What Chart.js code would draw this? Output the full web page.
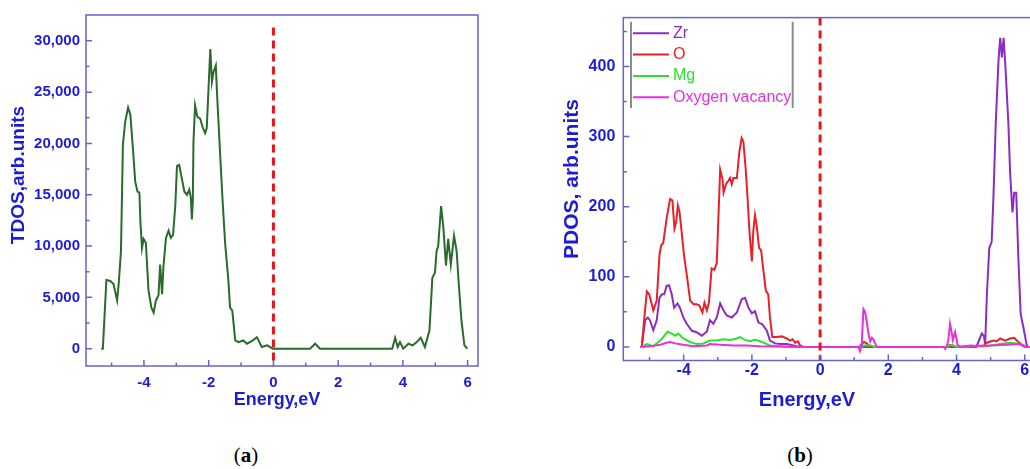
<!DOCTYPE html>
<html>
<head>
<meta charset="utf-8">
<script src="https://cdn.jsdelivr.net/npm/chart.js@4.4.1/dist/chart.umd.min.js"></script>
<style>
  html, body { margin: 0; padding: 0; background: #fff; overflow: hidden; }
  body { width: 1030px; height: 469px; position: relative; }
  .box { position: absolute; top: 0; height: 420px; }
  #boxA { left: 0; width: 500px; }
  #boxB { left: 530px; width: 530px; }
  .cap { position: absolute; top: 443px; font: 21px 'Liberation Serif', serif; transform: translateX(-50%); }
</style>
</head>
<body>
<div class="box" id="boxA"><canvas id="tdos"></canvas></div>
<div class="box" id="boxB"><canvas id="pdos"></canvas></div>
<div class="cap" style="left:246px">(<b>a</b>)</div>
<div class="cap" style="left:800px">(<b>b</b>)</div>
<script>
// Density of states, panel (a) total and panel (b) partial

const energyTicks = [-4, -2, 0, 2, 4, 6];
const tdosTicks = [0, 5000, 10000, 15000, 20000, 25000, 30000];
const pdosTicks = [0, 100, 200, 300, 400];

const tdosEnergy = [-5.32, -5.27, -5.16, -5.04, -4.94, -4.83, -4.78, -4.71, -4.65, -4.58, -4.49, -4.42, -4.34, -4.27,
  -4.20, -4.14, -4.11, -4.06, -4.01, -3.94, -3.86, -3.77, -3.70, -3.63, -3.55, -3.50, -3.44, -3.40, -3.32, -3.24,
  -3.17, -3.10, -3.03, -2.98, -2.91, -2.83, -2.75, -2.67, -2.60, -2.55, -2.52, -2.49, -2.47, -2.42, -2.35, -2.26,
  -2.19, -2.11, -2.06, -2.01, -1.95, -1.90, -1.85, -1.78, -1.73, -1.65, -1.57, -1.49, -1.39, -1.34, -1.27, -1.18,
  -1.08, -0.93, -0.82, -0.67, -0.51, -0.36, -0.19, -0.02, 1.13, 1.29, 1.44, 3.67, 3.76, 3.84, 3.91, 4.01, 4.17,
  4.30, 4.43, 4.55, 4.68, 4.82, 4.91, 4.99, 5.04, 5.09, 5.18, 5.25, 5.33, 5.40, 5.48, 5.58, 5.66, 5.73, 5.81,
  5.90, 5.99];
const tdosValue = [0, 0, 6700, 6600, 6300, 4700, 6300, 9500, 19900, 22100, 23500, 22800, 19500, 16300,
  15300, 15200, 12400, 9800, 10700, 10300, 5700, 4000, 3500, 4700, 5200, 8200, 5300, 7900, 10800, 11500,
  10800, 11100, 14000, 17800, 17900, 16600, 15300, 15000, 15500, 14700, 12600, 14400, 20200, 23700, 22600, 22400,
  21600, 21000, 21500, 25000, 29200, 26000, 27000, 27600, 24100, 19200, 14400, 10200, 6600, 4000, 3700, 800,
  640, 800, 480, 740, 1120, 160, 320, 0, 0, 480, 0, 0, 1060, 160, 640, 0, 480,
  320, 640, 1060, 160, 1770, 6900, 7400, 9500, 10000, 13900, 11800, 8100, 10700, 8200, 11000, 9500, 6100, 2700,
  320, 0];

const zrEnergy = [-5.23, -5.13, -5.05, -4.99, -4.89, -4.79, -4.71, -4.64, -4.57, -4.50, -4.43, -4.35, -4.28, -4.18,
  -4.11, -4.01, -3.91, -3.76, -3.62, -3.47, -3.32, -3.23, -3.13, -3.03, -2.93, -2.83, -2.74, -2.59, -2.44, -2.30,
  -2.20, -2.10, -2.00, -1.91, -1.81, -1.69, -1.56, -1.47, -1.32, -1.17, -0.98, -0.78, -0.59, 4.58, 4.64, 4.74,
  4.80, 4.84, 4.89, 4.96, 5.03, 5.08, 5.15, 5.23, 5.28, 5.33, 5.38, 5.43, 5.52, 5.57, 5.64, 5.69, 5.75, 5.81,
  5.88, 5.96, 6.06, 6.11, 6.30];
const zrValue = [0, 38, 42, 38, 24, 38, 70, 75, 75, 87, 88, 75, 56, 62,
  56, 42, 33, 23, 21, 16, 22, 38, 33, 42, 62, 52, 45, 42, 49, 68,
  70, 56, 48, 51, 35, 32, 23, 9, 5, 4, 4, 2, 0, 0, 7, 19,
  16, 4, 75, 141, 150, 211, 319, 408, 441, 413, 441, 403, 319, 249, 192, 220, 220, 131,
  47, 28, 2, 0, 0];

const oEnergy = [-5.23, -5.16, -5.08, -5.01, -4.89, -4.79, -4.71, -4.66, -4.60, -4.50, -4.40, -4.33, -4.27, -4.22,
  -4.17, -4.12, -4.06, -3.99, -3.91, -3.81, -3.71, -3.62, -3.54, -3.45, -3.39, -3.32, -3.26, -3.18, -3.10, -3.03,
  -2.93, -2.86, -2.83, -2.76, -2.69, -2.64, -2.59, -2.54, -2.44, -2.37, -2.30, -2.25, -2.18, -2.12, -2.07, -2.00,
  -1.96, -1.91, -1.86, -1.79, -1.73, -1.66, -1.59, -1.52, -1.47, -1.40, -1.27, -1.12, -0.98, -0.88, -0.81, -0.73,
  -0.65, -0.59, -0.49, 1.15, 1.22, 1.29, 1.37, 1.45, 1.60, 3.70, 3.80, 3.90, 4.00, 4.80, 4.89, 5.08, 5.18, 5.28,
  5.43, 5.57, 5.69, 5.81, 5.96, 6.06, 6.30];
const oValue = [0, 38, 79, 75, 52, 66, 131, 145, 148, 183, 211, 209, 169, 178,
  202, 192, 164, 131, 103, 66, 61, 61, 59, 49, 63, 52, 63, 112, 110, 120,
  253, 239, 220, 232, 237, 241, 232, 241, 241, 277, 298, 293, 253, 206, 164, 122,
  164, 188, 174, 141, 138, 108, 80, 75, 42, 14, 14, 15, 12, 9, 11, 6,
  8, 2, 0, 0, 4, 7, 5, 1, 0, 0, 3, 2, 0, 2, 6, 9, 8, 12,
  9, 12, 13, 7, 2, 0, 0];

const mgEnergy = [-5.23, -5.08, -4.89, -4.69, -4.60, -4.47, -4.35, -4.25, -4.16, -4.01, -3.81, -3.62, -3.42, -3.23,
  -3.03, -2.83, -2.64, -2.44, -2.35, -2.20, -2.05, -1.91, -1.76, -1.61, -1.47, -1.17, -0.59, 1.15, 1.30, 1.50,
  1.60, 3.70, 3.85, 4.00, 5.00, 5.28, 5.57, 5.75, 5.96, 6.06, 6.30];
const mgValue = [0, 4, 1, 9, 14, 22, 19, 16, 19, 12, 7, 4, 5, 9,
  9, 11, 10, 12, 14, 10, 8, 10, 8, 5, 2, 1, 0, 0, 2, 2,
  0, 0, 3, 0, 2, 4, 6, 5, 2, 0, 0];

const vacEnergy = [-5.28, -4.99, -4.69, -4.50, -4.40, -4.25, -4.01, -3.71, -3.32, -3.23, -2.93, -2.54, -2.15, -1.76,
  -1.27, -0.59, 1.12, 1.17, 1.22, 1.27, 1.32, 1.37, 1.42, 1.47, 1.52, 1.57, 1.63, 1.67, 3.62, 3.67, 3.72, 3.76,
  3.81, 3.86, 3.89, 3.96, 4.03, 4.11, 4.40, 4.70, 5.00, 5.48, 5.85, 6.00, 6.30];
const vacValue = [0, 1, 3, 6, 7, 5, 3, 1, 2, 4, 3, 2, 2, 1,
  0.5, 0, 0, -6, 3, 54, 50, 35, 18, 8, 13, 10, 3, 0, 0, -3, 2, 10,
  33, 20, 10, 21, 3, 0, 2, 1, 2, 3, 4, 0, 0];

const pdosLabels = ['Zr', 'O', 'Mg', 'Oxygen vacancy'];
const pdosColors = ['#8c2cc0', '#e8202a', '#2ee02e', '#ea2ee0'];

const FONT = "'Liberation Sans', Arial, sans-serif";
const LABEL_COLOR = '#1c1cd8';
const AXIS_COLOR = '#6464cc';
const FERMI_COLOR = '#e81418';

Chart.defaults.font.family = FONT;

function toPoints(xs, ys) {
  return xs.map((x, i) => ({ x: x, y: ys[i] }));
}

// tick positions at half the major step, every other one is major
function markValues(scale, step) {
  const out = [];
  for (let k = Math.ceil(scale.min / step); k * step <= scale.max; k++) {
    out.push([k * step, k % 2 === 0]);
  }
  return out;
}

// Origin-like box frame with inward ticks and axis titles
const frameTicks = {
  id: 'frameTicks',
  afterDraw(chart, args, o) {
    const { ctx, chartArea: a, scales: { x, y } } = chart;
    ctx.save();
    ctx.strokeStyle = AXIS_COLOR;
    ctx.lineWidth = 1.5;
    ctx.strokeRect(a.left, a.top, a.right - a.left, a.bottom - a.top);
    ctx.beginPath();
    markValues(x, o.xMinor).forEach(([v, major]) => {
      const px = x.getPixelForValue(v);
      if (px < a.left + 2 || px > a.right - 2) return;
      ctx.moveTo(px, a.bottom);
      ctx.lineTo(px, a.bottom - (major ? 6 : 3.5));
    });
    markValues(y, o.yMinor).forEach(([v, major]) => {
      const py = y.getPixelForValue(v);
      if (py < a.top + 2 || py > a.bottom - 2) return;
      ctx.moveTo(a.left, py);
      ctx.lineTo(a.left + (major ? 6 : 3.5), py);
    });
    ctx.stroke();

    ctx.fillStyle = LABEL_COLOR;
    ctx.textAlign = 'center';
    ctx.textBaseline = 'middle';
    ctx.font = 'bold ' + o.xTitle.size + 'px ' + FONT;
    ctx.fillText(o.xTitle.text, o.xTitle.x, o.xTitle.y);
    ctx.translate(o.yTitle.x, o.yTitle.y);
    ctx.rotate(-Math.PI / 2);
    ctx.font = 'bold ' + o.yTitle.size + 'px ' + FONT;
    ctx.fillText(o.yTitle.text, 0, 0);
    ctx.restore();
  }
};

// legend framed by two grey bars, like the Origin one
const barLegend = {
  id: 'barLegend',
  afterDraw(chart, args, o) {
    const ctx = chart.ctx;
    ctx.save();
    ctx.strokeStyle = '#8c8c8c';
    ctx.lineWidth = 2;
    ctx.beginPath();
    ctx.moveTo(o.left, o.top);
    ctx.lineTo(o.left, o.bottom);
    ctx.moveTo(o.right, o.top);
    ctx.lineTo(o.right, o.bottom);
    ctx.stroke();
    ctx.font = '16px ' + FONT;
    ctx.textAlign = 'left';
    ctx.textBaseline = 'middle';
    chart.data.datasets.filter(ds => ds.inLegend).forEach((ds, i) => {
      const yy = o.firstRow + i * o.rowGap;
      ctx.strokeStyle = ds.borderColor;
      ctx.lineWidth = 2;
      ctx.beginPath();
      ctx.moveTo(o.left + 2, yy);
      ctx.lineTo(o.left + 38, yy);
      ctx.stroke();
      ctx.fillStyle = ds.borderColor;
      ctx.fillText(ds.label, o.left + 42, yy);
    });
    ctx.restore();
  }
};

function axisTicks(size, pad, extra) {
  return Object.assign({
    color: LABEL_COLOR,
    font: { size: size, weight: 'bold' },
    padding: pad,
    autoSkip: false,
    maxRotation: 0
  }, extra);
}

function fixedTicks(values) {
  return scale => { scale.ticks = values.map(v => ({ value: v })); };
}

const noGrid = { display: false, drawTicks: false };

new Chart(document.getElementById('tdos'), {
  type: 'line',
  data: {
    datasets: [
      { label: 'Fermi', data: toPoints([0, 0], [31300, -1700]), borderColor: FERMI_COLOR, borderWidth: 3,
        borderDash: [8, 5], pointRadius: 0, order: 0 },
      { label: 'TDOS', data: toPoints(tdosEnergy, tdosValue), borderColor: '#2a6a2a', borderWidth: 2,
        pointRadius: 0, tension: 0, order: 1 }
    ]
  },
  options: {
    responsive: true,
    maintainAspectRatio: false,
    animation: false,
    layout: { padding: { top: 13, right: 22, left: 0, bottom: 0 } },
    plugins: {
      legend: { display: false },
      tooltip: { enabled: false },
      frameTicks: {
        xMinor: 1, yMinor: 2500,
        xTitle: { text: 'Energy,eV', size: 18, x: 277, y: 400 },
        yTitle: { text: 'TDOS,arb.units', size: 19, x: 19, y: 175 }
      }
    },
    scales: {
      x: {
        type: 'linear', min: -5.79, max: 6.32,
        ticks: axisTicks(15, 8),
        afterBuildTicks: fixedTicks(energyTicks),
        grid: noGrid, border: { display: false },
        afterFit(s) { s.height = 54; }
      },
      y: {
        min: -1690, max: 32520,
        ticks: axisTicks(15, 6, { callback: v => v.toLocaleString('en-US') }),
        afterBuildTicks: fixedTicks(tdosTicks),
        grid: noGrid, border: { display: false },
        afterFit(s) { s.width = 86; }
      }
    }
  },
  plugins: [frameTicks]
});

const pdosSets = [zrEnergy, oEnergy, mgEnergy, vacEnergy].map((xs, i) => ({
  label: pdosLabels[i],
  data: toPoints(xs, [zrValue, oValue, mgValue, vacValue][i]),
  borderColor: pdosColors[i],
  borderWidth: 2,
  pointRadius: 0,
  tension: 0,
  inLegend: true,
  order: 4 - i
}));

new Chart(document.getElementById('pdos'), {
  type: 'line',
  data: {
    datasets: pdosSets.concat([
      { label: 'Fermi', data: toPoints([0, 0], [470, -20]), borderColor: FERMI_COLOR, borderWidth: 3,
        borderDash: [8, 5], pointRadius: 0, order: 0 }
    ])
  },
  options: {
    responsive: true,
    maintainAspectRatio: false,
    animation: false,
    layout: { padding: { top: 12.7, right: 24, left: 0, bottom: 0 } },
    plugins: {
      legend: { display: false },
      tooltip: { enabled: false },
      frameTicks: {
        xMinor: 1, yMinor: 50,
        xTitle: { text: 'Energy,eV', size: 20, x: 277, y: 400 },
        yTitle: { text: 'PDOS, arb.units', size: 21, x: 42, y: 179 }
      },
      barLegend: { left: 101, right: 262.7, top: 21.7, bottom: 108, firstRow: 33.3, rowGap: 21.3 }
    },
    scales: {
      x: {
        type: 'linear', min: -5.77, max: 6.33,
        ticks: axisTicks(16, 0),
        afterBuildTicks: fixedTicks(energyTicks),
        grid: noGrid, border: { display: false },
        afterFit(s) { s.height = 59.5; }
      },
      y: {
        min: -19.4, max: 469.8,
        ticks: axisTicks(16, 8),
        afterBuildTicks: fixedTicks(pdosTicks),
        grid: noGrid, border: { display: false },
        afterFit(s) { s.width = 93.3; }
      }
    }
  },
  plugins: [frameTicks, barLegend]
});
</script>
</body>
</html>
